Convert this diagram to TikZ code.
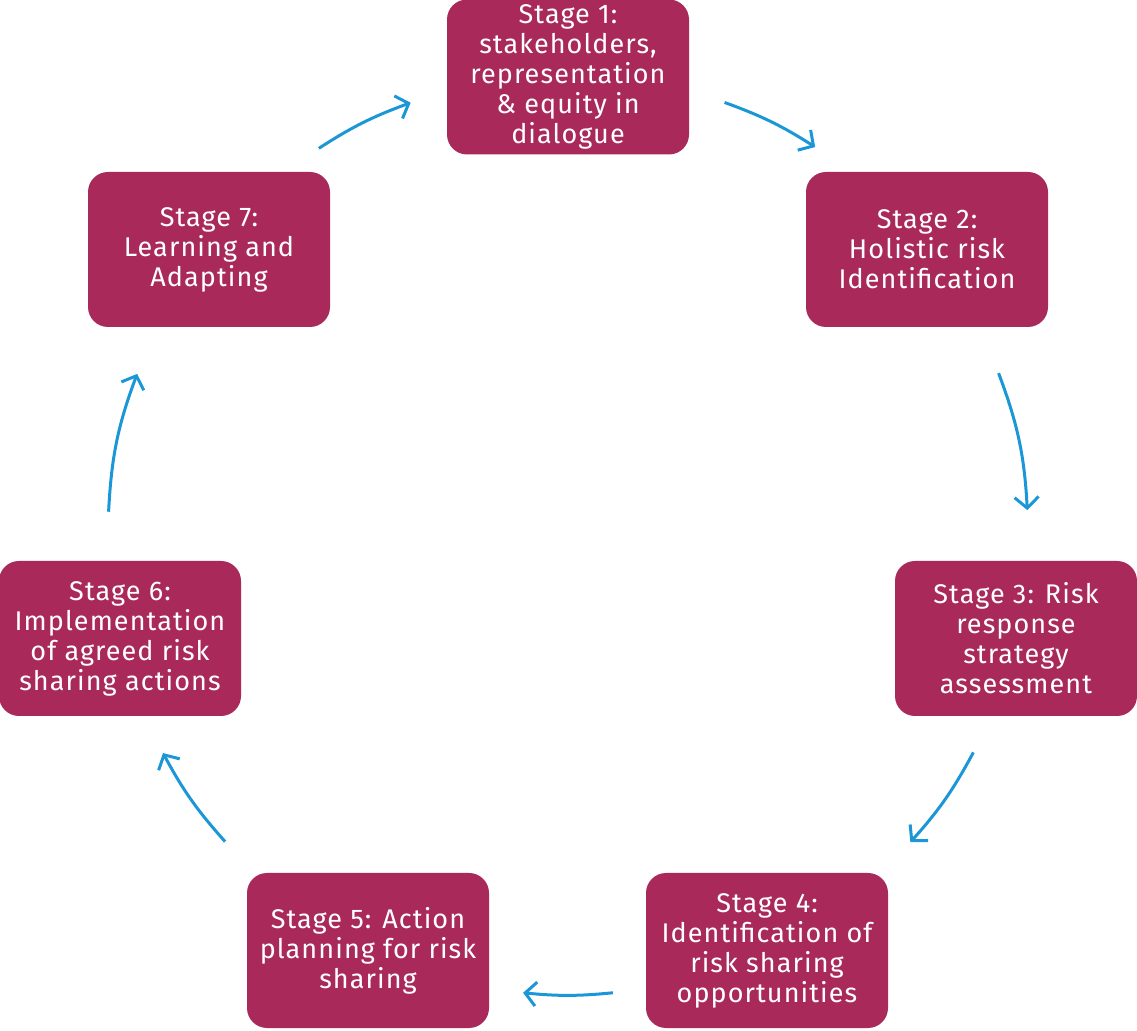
\documentclass[tikz,border=0pt]{standalone}
\usepackage{fontspec}
\setmainfont[LetterSpace=4]{Fira Sans}
\usetikzlibrary{arrows.meta}
\definecolor{stagered}{HTML}{A92A5A}
\definecolor{flowblue}{HTML}{1B96D6}
\tikzset{>={Straight Barb[length=11pt, width=24pt]}}
\tikzset{stagebox/.style={fill=stagered, text=white, rounded corners=20pt, minimum width=242pt, minimum height=155pt, inner sep=0pt, align=center, font=\fontsize{27}{30}\selectfont}}
\tikzset{flow/.style={->, flowblue, line width=3pt}}

\begin{document}
\begin{tikzpicture}[x=1pt, y=1pt]
    \useasboundingbox(0, 0) rectangle (1137, 1030);
    \node[stagebox](s1) at (568, 953){Stage 1:\\stakeholders,\\representation\\\& equity in\\dialogue};
    \node[stagebox](s2) at (927, 780.5){Stage 2:\\Holistic risk\\Identification};
    \node[stagebox](s3) at (1016, 391.5){Stage 3: Risk\\response\\strategy\\assessment};
    \node[stagebox](s4) at (767, 79.5){Stage 4:\\Identification of\\risk sharing\\opportunities};
    \node[stagebox](s5) at (368, 79.5){Stage 5: Action\\planning for risk\\sharing};
    \node[stagebox](s6) at (120, 391.5){Stage 6:\\Implementation\\of agreed risk\\sharing actions};
    \node[stagebox](s7) at (209, 780.5){Stage 7:\\Learning and\\Adapting};
    % arrows sit on one circle round the middle
    \coordinate (mid) at (568, 495);
    \foreach \i/\a/\b in {1/70.1/57.5, 2/20.6/3.1, 3/-28.2/-41.9, 4/-84.4/-95.6, 5/-138.2/-151.7, 6/177.1/159.5, 7/122.8/110}{
        \path(mid) ++(\a:460) coordinate (f\i a);
        \path(mid) ++(\b:460) coordinate (f\i b);
        \pgfmathsetmacro{\bendby}{(\a-\b)/2}
        \draw[flow](f\i a) to[bend left=\bendby] (f\i b);
    }
\end{tikzpicture}
\end{document}
